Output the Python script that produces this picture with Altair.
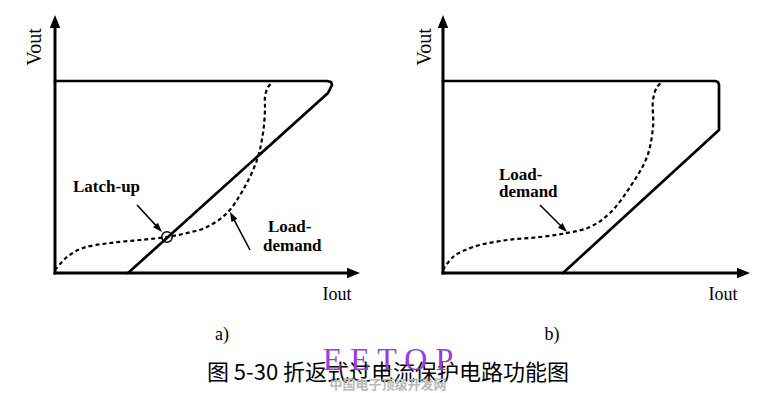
import math
import altair as alt
import pandas as pd

SERIF = "Liberation Serif"
CJK = "Noto Sans CJK SC"

# ---------------- panel a (units: px from the axes origin) ----------------
a_fold_x = [0, 272, 276, 277, 273, 73]
a_fold_y = [192, 192, 191, 188, 180, 0]
a_load_x = [0, 12, 28, 55, 85, 112, 132, 152, 172, 188, 202, 208, 210, 210, 213, 218]
a_load_y = [3, 16, 25, 30, 33, 36, 40, 46, 60, 83, 113, 140, 163, 176, 186, 191]
a_latch_x = [112]
a_latch_y = [36]
a_arrow_x0 = [82, 195]
a_arrow_y0 = [68, 23]
a_arrow_x1 = [107, 175]
a_arrow_y1 = [41, 61]
a_text = ["Latch-up", "Load-", "demand"]
a_text_x = [18, 213, 208]
a_text_y = [81, 41, 22]

# ---------------- panel b ----------------
b_fold_x = [0, 272, 275, 276, 276, 120]
b_fold_y = [192, 192, 191, 188, 143, 0]
b_load_x = [0, 10, 30, 64, 97, 124, 147, 167, 187, 204, 210, 210, 214, 219]
b_load_y = [3, 16, 26, 33, 36, 40, 46, 60, 86, 116, 146, 173, 186, 191]
b_arrow_x0 = [97]
b_arrow_y0 = [68]
b_arrow_x1 = [124]
b_arrow_y1 = [41]
b_text = ["Load-", "demand"]
b_text_x = [56, 56]
b_text_y = [93, 76]

# axes
axis_x_len = [305, 307]
axis_y_len = [258, 258]
vout_pos = [(-20, 226), (-18, 226)]
iout_pos = [(282, -27), (280, -27)]
panel_labels = ["a)", "b)"]
panel_label_pos = [(167, -67), (109, -67)]
x_domains = [[-47, 333], [-55, 324]]
panel_widths = [380, 379]
Y_DOMAIN = [-69, 265]
PANEL_H = 334

caption = "图 5-30 折返式过电流保护电路功能图"
watermark = "E E T O P"
watermark2 = "中国电子顶级开发网"

ARROW = "M0,0L-0.7,2L0.7,2Z"


def angle_of(dx, dy):
    return (math.degrees(math.atan2(dx, dy)) + 360) % 360


def panel(i, fold_x, fold_y, load_x, load_y, ax0, ay0, ax1, ay1, tx, ty, tt,
          latch_x=None, latch_y=None):
    xs = alt.Scale(domain=x_domains[i], nice=False, zero=False)
    ys = alt.Scale(domain=Y_DOMAIN, nice=False, zero=False)
    X = lambda f: alt.X(f, type="quantitative", scale=xs, axis=None)
    Y = lambda f: alt.Y(f, type="quantitative", scale=ys, axis=None)

    xl, yl = axis_x_len[i], axis_y_len[i]
    axes_df = pd.DataFrame({"x": [0, -1.5], "y": [-1.5, 0],
                            "x2": [0, xl - 10], "y2": [yl - 11, 0]})
    axes = alt.Chart(axes_df).mark_rule(color="black", strokeWidth=3).encode(
        x=X("x"), y=Y("y"), x2="x2", y2="y2")
    heads_df = pd.DataFrame({"x": [0, xl], "y": [yl, 0], "a": [0, 90]})
    heads = alt.Chart(heads_df).mark_point(
        shape="M0,0L-0.8,2L0.8,2Z", filled=True, opacity=1, color="black",
        size=169, strokeWidth=0).encode(
        x=X("x"), y=Y("y"), angle=alt.Angle("a:Q", scale=None))

    fold_df = pd.DataFrame({"x": fold_x, "y": fold_y, "o": range(len(fold_x))})
    fold = alt.Chart(fold_df).mark_line(
        color="black", strokeWidth=2.7, strokeJoin="round", strokeCap="round"
    ).encode(x=X("x"), y=Y("y"), order="o:Q")

    load_df = pd.DataFrame({"x": load_x, "y": load_y, "o": range(len(load_x))})
    load = alt.Chart(load_df).mark_line(
        color="black", strokeWidth=2.2, strokeDash=[4, 3],
        interpolate="catmull-rom").encode(x=X("x"), y=Y("y"), order="o:Q")

    ar_df = pd.DataFrame({"x0": ax0, "y0": ay0, "x1": ax1, "y1": ay1})
    ar_df["a"] = [angle_of(b - a, d - c) for a, b, c, d in
                  zip(ar_df.x0, ar_df.x1, ar_df.y0, ar_df.y1)]
    ar_df["xs"] = [x1 - 6 * math.sin(math.radians(a)) for x1, a in zip(ar_df.x1, ar_df.a)]
    ar_df["ys"] = [y1 - 6 * math.cos(math.radians(a)) for y1, a in zip(ar_df.y1, ar_df.a)]
    shafts = alt.Chart(ar_df).mark_rule(color="black", strokeWidth=1.6).encode(
        x=X("x0"), y=Y("y0"), x2="xs", y2="ys")
    tips = alt.Chart(ar_df).mark_point(
        shape=ARROW, filled=True, opacity=1, color="black", size=90,
        strokeWidth=0).encode(x=X("x1"), y=Y("y1"),
                              angle=alt.Angle("a:Q", scale=None))

    txt_df = pd.DataFrame({"x": tx, "y": ty, "t": tt})
    texts = alt.Chart(txt_df).mark_text(
        font=SERIF, fontSize=17, fontWeight="bold", align="left",
        baseline="alphabetic", color="black").encode(
        x=X("x"), y=Y("y"), text="t:N")

    lab_df = pd.DataFrame({"x": [iout_pos[i][0], panel_label_pos[i][0]],
                           "y": [iout_pos[i][1], panel_label_pos[i][1]],
                           "t": ["Iout", panel_labels[i]]})
    labs = alt.Chart(lab_df).mark_text(
        font=SERIF, fontSize=18, align="center", baseline="alphabetic",
        color="black").encode(x=X("x"), y=Y("y"), text="t:N")
    vout_df = pd.DataFrame({"x": [vout_pos[i][0]], "y": [vout_pos[i][1]], "t": ["Vout"]})
    vout = alt.Chart(vout_df).mark_text(
        font=SERIF, fontSize=20, align="center", baseline="middle", angle=270,
        color="black").encode(x=X("x"), y=Y("y"), text="t:N")

    layers = [axes, heads, fold, load, shafts, tips, texts, labs, vout]
    if latch_x is not None:
        c_df = pd.DataFrame({"x": latch_x, "y": latch_y})
        circ = alt.Chart(c_df).mark_point(
            shape="circle", filled=False, color="black", opacity=1, size=110,
            strokeWidth=1.5).encode(x=X("x"), y=Y("y"))
        layers.append(circ)
    return alt.layer(*layers).properties(width=panel_widths[i], height=PANEL_H)


pa = panel(0, a_fold_x, a_fold_y, a_load_x, a_load_y, a_arrow_x0, a_arrow_y0,
           a_arrow_x1, a_arrow_y1, a_text_x, a_text_y, a_text, a_latch_x, a_latch_y)
pb = panel(1, b_fold_x, b_fold_y, b_load_x, b_load_y, b_arrow_x0, b_arrow_y0,
           b_arrow_x1, b_arrow_y1, b_text_x, b_text_y, b_text)

cx = alt.Scale(domain=[0, 759], nice=False, zero=False)
cy = alt.Scale(domain=[0, 42], nice=False, zero=False)
cap_df = pd.DataFrame({"x": [380], "y": [9], "t": [caption]})
cap = alt.Chart(cap_df).mark_text(
    font=CJK, fontSize=22, align="center", baseline="alphabetic", color="black"
).encode(x=alt.X("x:Q", scale=cx, axis=None), y=alt.Y("y:Q", scale=cy, axis=None), text="t:N")
wm_df = pd.DataFrame({"x": [380], "y": [19], "t": [watermark]})
wm = alt.Chart(wm_df).mark_text(
    font=SERIF, fontSize=32, align="center", baseline="alphabetic", color="#9a3ddb"
).encode(x=alt.X("x:Q", scale=cx, axis=None), y=alt.Y("y:Q", scale=cy, axis=None), text="t:N")
wm2_df = pd.DataFrame({"x": [380], "y": [0], "t": [watermark2]})
wm2 = alt.Chart(wm2_df).mark_text(
    font=CJK, fontSize=13, fontWeight="bold", align="center", baseline="alphabetic",
    color="#b8b8b8"
).encode(x=alt.X("x:Q", scale=cx, axis=None), y=alt.Y("y:Q", scale=cy, axis=None), text="t:N")
bottom = alt.layer(cap, wm, wm2).properties(width=759, height=42)

chart = alt.vconcat(
    alt.hconcat(pa, pb, spacing=0),
    bottom,
    spacing=0,
).properties(padding=0, background="white").configure_view(stroke=None)

chart.save("out.html", embed_options={"renderer": "svg", "actions": False})
